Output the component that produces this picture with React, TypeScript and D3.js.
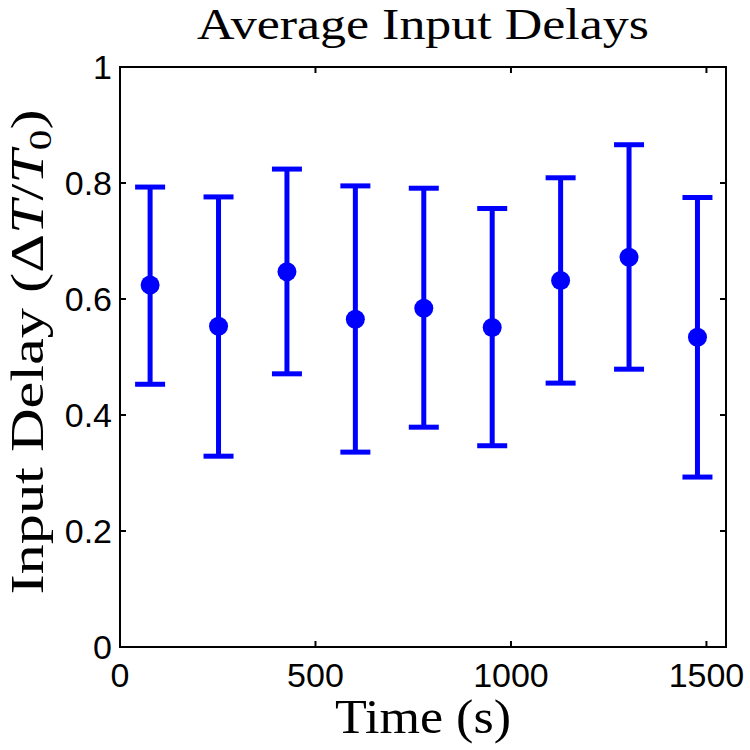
import React from "react";
import * as d3 from "d3";

// bin centres (s) and the mean / upper / lower error-bar ends
const times = [77, 252, 427, 602, 777, 952, 1127, 1302, 1477];
const means = [0.624, 0.553, 0.647, 0.565, 0.584, 0.551, 0.632, 0.672, 0.534];
const upper = [0.793, 0.776, 0.824, 0.795, 0.791, 0.756, 0.809, 0.866, 0.775];
const lower = [0.453, 0.329, 0.471, 0.336, 0.379, 0.347, 0.455, 0.479, 0.293];

const xTicks = [0, 500, 1000, 1500];
const yTicks = [0, 0.2, 0.4, 0.6, 0.8, 1];

const W = 750;
const H = 750;
const left = 120;
const right = 726;
const top = 67;
const bottom = 647;

const blue = "#0000ff";
const sans = "'Liberation Sans', Arial, Helvetica, sans-serif";
const serif = "'Liberation Serif', 'Times New Roman', serif";

const App = () => {
  const x = d3.scaleLinear().domain([0, 1550]).range([left, right]);
  const y = d3.scaleLinear().domain([0, 1]).range([bottom, top]);
  const tick = 6;
  const cap = 15;

  return (
    <svg
      width={W}
      height={H}
      style={{ position: "absolute", left: 0, top: 0, background: "#fff" }}
    >
      <rect x={0} y={0} width={W} height={H} fill="#fff" />

      {/* error bars */}
      <g stroke={blue} strokeWidth={5} fill="none">
        {times.map((t, i) => (
          <g key={i}>
            <line x1={x(t)} x2={x(t)} y1={y(lower[i])} y2={y(upper[i])} />
            <line x1={x(t) - cap} x2={x(t) + cap} y1={y(upper[i])} y2={y(upper[i])} />
            <line x1={x(t) - cap} x2={x(t) + cap} y1={y(lower[i])} y2={y(lower[i])} />
          </g>
        ))}
      </g>
      <g fill={blue}>
        {times.map((t, i) => (
          <circle key={i} cx={x(t)} cy={y(means[i])} r={9.5} />
        ))}
      </g>

      {/* box + inward ticks */}
      <g stroke="#000" strokeWidth={2} fill="none">
        <rect x={left} y={top} width={right - left} height={bottom - top} />
        {xTicks.map((v) => (
          <g key={v}>
            <line x1={x(v)} x2={x(v)} y1={bottom} y2={bottom - tick} />
            <line x1={x(v)} x2={x(v)} y1={top} y2={top + tick} />
          </g>
        ))}
        {yTicks.map((v) => (
          <g key={v}>
            <line x1={left} x2={left + tick} y1={y(v)} y2={y(v)} />
            <line x1={right} x2={right - tick} y1={y(v)} y2={y(v)} />
          </g>
        ))}
      </g>

      <g fontFamily={sans} fontSize={34} fill="#000">
        {xTicks.map((v) => (
          <text key={v} x={x(v)} y={687} textAnchor="middle">
            {d3.format("d")(v)}
          </text>
        ))}
        {yTicks.map((v) => (
          <text key={v} x={left - 8} y={y(v) + 12} textAnchor="end">
            {v === 0 || v === 1 ? String(v) : d3.format(".1f")(v)}
          </text>
        ))}
      </g>

      <text
        x={(left + right) / 2}
        y={39}
        textAnchor="middle"
        fontFamily={serif}
        fontSize={44}
        textLength={452}
        lengthAdjust="spacingAndGlyphs"
      >
        Average Input Delays
      </text>

      <text
        x={(left + right) / 2}
        y={733}
        textAnchor="middle"
        fontFamily={serif}
        fontSize={48}
        textLength={176}
        lengthAdjust="spacingAndGlyphs"
      >
        Time (s)
      </text>

      <text
        transform="translate(43, 352) rotate(-90)"
        textAnchor="middle"
        fontFamily={serif}
        fontSize={47}
        textLength={485}
        lengthAdjust="spacingAndGlyphs"
      >
        Input Delay (Δ<tspan fontStyle="italic">T</tspan>/
        <tspan fontStyle="italic">T</tspan>
        <tspan fontSize={32} dy={8}>0</tspan>
        <tspan dy={-8}>)</tspan>
      </text>
    </svg>
  );
};

export default App;
